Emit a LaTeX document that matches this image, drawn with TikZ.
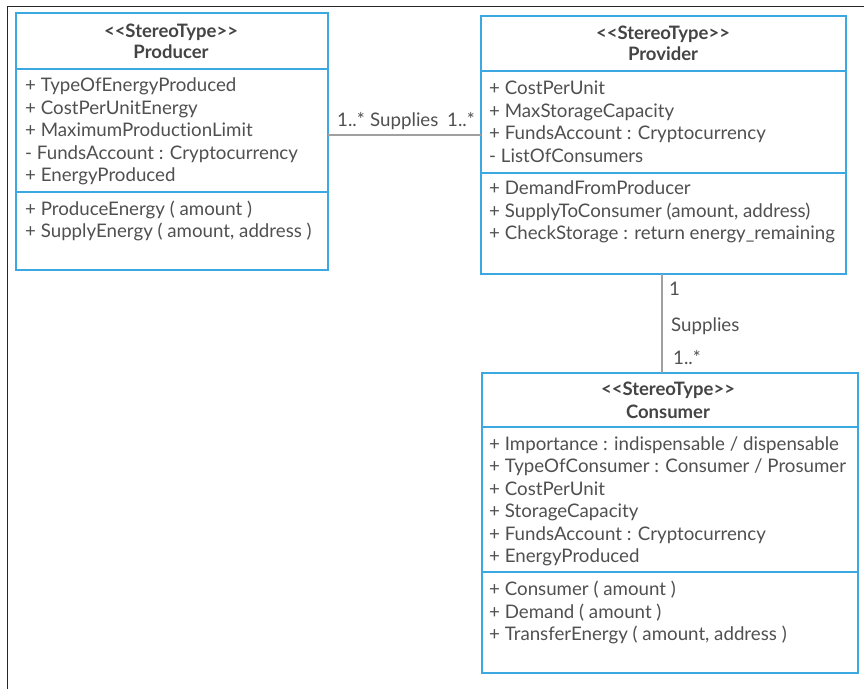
\documentclass[tikz,border=0pt]{standalone}
\usepackage{fontspec}
\setmainfont{Lato}[Ligatures={NoCommon,NoRare}]
\definecolor{umlblue}{HTML}{3BA8E1}
\definecolor{txtgray}{HTML}{505050}
\definecolor{conngray}{HTML}{A0A0A0}
\tikzset{
  umlbox/.style={draw=umlblue, line width=2.8pt, rectangle, inner sep=0pt, outer sep=0pt, anchor=north west},
  divider/.style={draw=umlblue, line width=2.2pt},
  attr/.style={anchor=west, inner sep=0pt, text=txtgray, font=\fontsize{18.7}{20}\selectfont, text height=13pt, text depth=0pt},
  head/.style={anchor=center, inner sep=0pt, text=txtgray!85!black, font=\fontsize{18.5}{20}\selectfont\bfseries, text height=13pt, text depth=0pt},
  conn/.style={draw=conngray, line width=2.6pt},
  lbl/.style={anchor=west, inner sep=0pt, text=txtgray, font=\fontsize{18.7}{20}\selectfont, text height=13pt, text depth=0pt},
  frameline/.style={draw=black!85, line width=1.4pt}
}
\newcommand{\stereo}{<\kern0pt<StereoType>\kern0pt>}
\begin{document}
\begin{tikzpicture}[x=1pt,y=-1pt]
\useasboundingbox (0,0) rectangle (864,689);
\fill[white] (0,0) rectangle (864,689);
% outer frame
\draw[frameline] (7.5,689) -- (7.5,6.5) -- (864,6.5);

% Producer
\node[umlbox, minimum width=312pt, minimum height=257pt] (prod) at (16,13) {};
\draw[divider] (16,69) -- (328,69);
\draw[divider] (16,192) -- (328,192);
\node[head] (prodst) at (171,31) {\stereo};
\node[head] (prodnm) at (171,52) {Producer};
\node[attr] (pa1) at (25,85) {+ TypeOfEnergyProduced};
\node[attr] (pa2) at (25,108) {+ CostPerUnitEnergy};
\node[attr] (pa3) at (25,130) {+ MaximumProductionLimit};
\node[attr] (pa4) at (25,153) {- FundsAccount : Cryptocurrency};
\node[attr] (pa5) at (25,175) {+ EnergyProduced};
\node[attr] (po1) at (25,209) {+ ProduceEnergy ( amount )};
\node[attr] (po2) at (25,231) {+ SupplyEnergy ( amount, address )};

% Provider
\node[umlbox, minimum width=365pt, minimum height=258pt] (prov) at (481,16) {};
\draw[divider] (481,71) -- (846,71);
\draw[divider] (481,173) -- (846,173);
\node[head] (provst) at (663,33) {\stereo};
\node[head] (provnm) at (663,54) {Provider};
\node[attr] (va1) at (489,88) {+ CostPerUnit};
\node[attr] (va2) at (489,111) {+ MaxStorageCapacity};
\node[attr] (va3) at (489,133) {+ FundsAccount : Cryptocurrency};
\node[attr] (va4) at (489,156) {- ListOfConsumers};
\node[attr] (vo1) at (489,188) {+ DemandFromProducer};
\node[attr] (vo2) at (489,211) {+ SupplyToConsumer (amount, address)};
\node[attr] (vo3) at (489,233) {+ CheckStorage : return energy\_remaining};

% Consumer
\node[umlbox, minimum width=376pt, minimum height=300pt] (cons) at (482,373) {};
\draw[divider] (482,427) -- (858,427);
\draw[divider] (482,572) -- (858,572);
\node[head] (consst) at (668,389) {\stereo};
\node[head] (consnm) at (668,412) {Consumer};
\node[attr] (ca1) at (489,444) {+ Importance : indispensable / dispensable};
\node[attr] (ca2) at (489,466) {+ TypeOfConsumer : Consumer / Prosumer};
\node[attr] (ca3) at (489,489) {+ CostPerUnit};
\node[attr] (ca4) at (489,511) {+ StorageCapacity};
\node[attr] (ca5) at (489,534) {+ FundsAccount : Cryptocurrency};
\node[attr] (ca6) at (489,556) {+ EnergyProduced};
\node[attr] (co1) at (489,589) {+ Consumer ( amount )};
\node[attr] (co2) at (489,612) {+ Demand ( amount )};
\node[attr] (co3) at (489,634) {+ TransferEnergy ( amount, address )};

% connectors
\coordinate (hrow) at (400,135);
\coordinate (vcol) at (662,320);
\draw[conn] (hrow -| prod.east) -- (hrow -| prov.west);
\draw[conn] (vcol |- prov.south) -- (vcol |- cons.north);

% connector labels
\node[lbl] (l1) at (337,120) {1..*};
\node[lbl] (l2) at (370,120) {Supplies};
\node[lbl] (l3) at (447,120) {1..*};
\node[lbl] (l4) at (669,289) {1};
\node[lbl] (l5) at (671,325) {Supplies};
\node[lbl] (l6) at (673,358) {1..*};
\end{tikzpicture}
\end{document}
